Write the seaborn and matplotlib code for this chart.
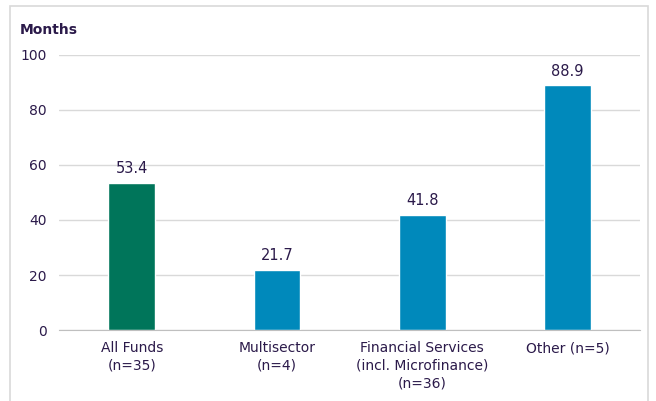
import numpy as np
import pandas as pd
import matplotlib
matplotlib.use("Agg")
import matplotlib.pyplot as plt
import seaborn as sns

categories = ["All Funds\n(n=35)", "Multisector\n(n=4)",
              "Financial Services\n(incl. Microfinance)\n(n=36)", "Other (n=5)"]
months = [53.4, 21.7, 41.8, 88.9]
bar_colors = ["#00755a", "#0089bb", "#0089bb", "#0089bb"]
yticks = [0, 20, 40, 60, 80, 100]

text_col = "#2b1a4a"

sns.set_style("white")
plt.rcParams["font.family"] = ["DejaVu Sans"]

df = pd.DataFrame({"cat": categories, "val": months})

fig = plt.figure(figsize=(6.56, 4.01), dpi=100)
ax = fig.add_axes([0.09, 0.177, 0.886, 0.686])

sns.barplot(data=df, x="cat", y="val", hue="cat", palette=bar_colors,
            width=0.32, legend=False, ax=ax, saturation=1)

ax.set_ylim(0, 100)
ax.set_xlim(-0.5, 3.5)
ax.set_yticks(yticks)
ax.yaxis.grid(True, color="#d9d9d9", linewidth=1)
ax.set_axisbelow(True)
for s in ["top", "right", "left"]:
    ax.spines[s].set_visible(False)
ax.spines["bottom"].set_color("#bfbfbf")
ax.tick_params(axis="both", length=0, colors=text_col, labelsize=10)
ax.tick_params(axis="y", pad=9)
ax.tick_params(axis="x", pad=8)
for lbl in ax.get_xticklabels():
    lbl.set_linespacing(1.35)
ax.set_xlabel("")
ax.set_ylabel("")

for i, v in enumerate(months):
    ax.text(i, v + 2.5, f"{v:.1f}", ha="center", va="bottom",
            color=text_col, fontsize=10.5)

fig.text(0.03, 0.915, "Months", color=text_col, fontsize=10, fontweight="semibold")

fig.patches.append(plt.Rectangle((10 / 656, -0.1), 638 / 656, 1 - 6 / 401 + 0.1,
                                 transform=fig.transFigure, fill=False,
                                 edgecolor="#d9d9d9", linewidth=1.2))

fig.savefig("out.png", dpi=100)
